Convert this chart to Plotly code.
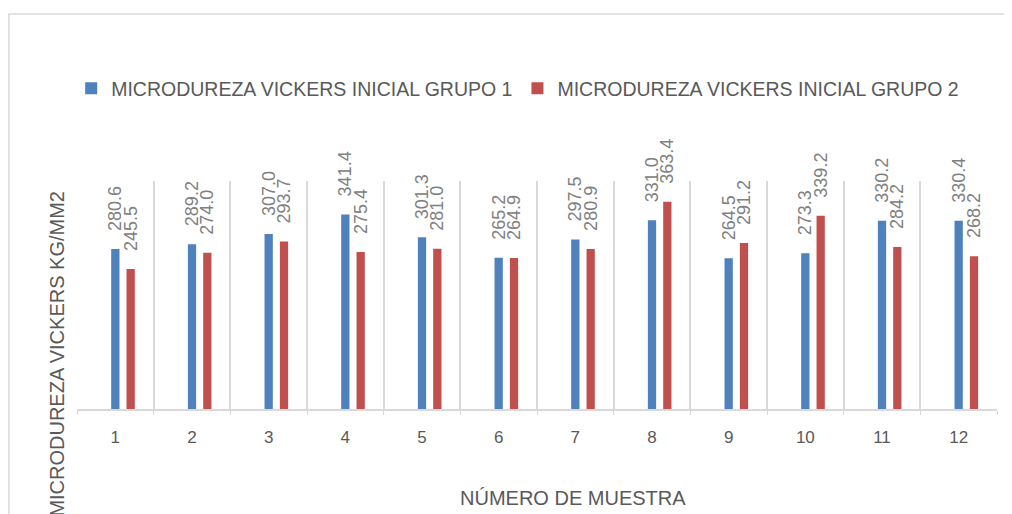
import plotly.graph_objects as go

# sample numbers and hardness values (kg/mm2)
muestras = [str(i) for i in range(1, 13)]
grupo_1 = [280.6, 289.2, 307.0, 341.4, 301.3, 265.2, 297.5, 331.0, 264.5, 273.3, 330.2, 330.4]
grupo_2 = [245.5, 274.0, 293.7, 275.4, 281.0, 264.9, 280.9, 363.4, 291.2, 339.2, 284.2, 268.2]

nombre_1 = 'MICRODUREZA VICKERS INICIAL GRUPO 1'
nombre_2 = 'MICRODUREZA VICKERS INICIAL GRUPO 2'

FONT = 'Liberation Sans'
GRAY = '#595959'
LABEL_GRAY = '#808080'
PAD = '\u00a0\u00a0\u00a0'

fig = go.Figure()
fig.add_trace(go.Bar(
    x=muestras, y=grupo_1, name=nombre_1,
    marker=dict(color='#4f81bd', line=dict(width=0)),
    width=0.108, offset=-0.054,
    texttemplate=PAD + '%{y:.1f}', textposition='outside', textangle=-90,
    constraintext='none', cliponaxis=False,
    textfont=dict(family=FONT, size=18, color=LABEL_GRAY),
))
fig.add_trace(go.Bar(
    x=muestras, y=grupo_2, name=nombre_2,
    marker=dict(color='#c0504d', line=dict(width=0)),
    width=0.108, offset=0.146,
    texttemplate=PAD + '%{y:.1f}', textposition='outside', textangle=-90,
    constraintext='none', cliponaxis=False,
    textfont=dict(family=FONT, size=18, color=LABEL_GRAY),
))

fig.update_xaxes(
    type='category', tickson='boundaries',
    showgrid=True, gridcolor='#d9d9d9', gridwidth=2,
    showline=True, linecolor='#d9d9d9', linewidth=2,
    ticks='outside', ticklen=4, tickcolor='#d9d9d9',
    ticklabelstandoff=12,
    tickfont=dict(family=FONT, size=17, color=GRAY),
)
fig.update_yaxes(range=[0, 400], showgrid=False, showticklabels=False, zeroline=False)

# page body has an 8px margin, so the margins are shifted by that
fig.update_layout(
    width=1012, height=514,
    margin=dict(l=69, r=23, t=173, b=113),
    barmode='overlay',
    plot_bgcolor='white', paper_bgcolor='white',
    font=dict(family=FONT, color=GRAY),
    legend=dict(
        orientation='h', x=0.479, xanchor='center', y=1.405, yanchor='middle',
        font=dict(family=FONT, size=19.5, color=GRAY),
    ),
    shapes=[dict(
        type='rect', xref='paper', yref='paper',
        x0=-0.074, x1=1.3, y0=-1.0, y1=1.732,
        line=dict(color='#d9d9d9', width=1.5), layer='below',
    )],
    annotations=[
        dict(text='MICRODUREZA VICKERS KG/MM2', xref='paper', yref='paper',
             x=-0.008, y=0.965, xanchor='right', yanchor='top', textangle=-90,
             showarrow=False, font=dict(family=FONT, size=20, color=GRAY)),
        dict(text='NÚMERO DE MUESTRA', xref='paper', yref='paper',
             x=0.539, y=-0.39, xanchor='center', yanchor='middle',
             showarrow=False, font=dict(family=FONT, size=20, color=GRAY)),
    ],
)

fig.write_html('out.html')
